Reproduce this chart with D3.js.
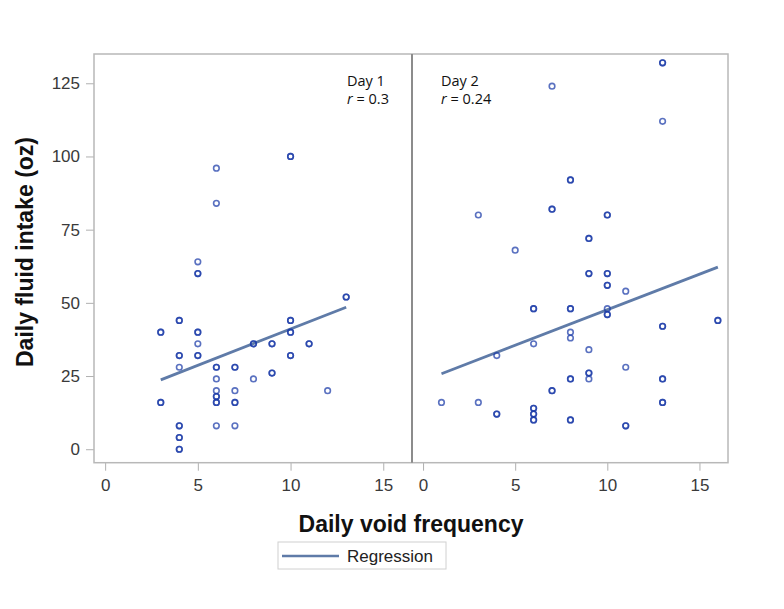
<!DOCTYPE html>
<html><head><meta charset="utf-8">
<script src="https://cdn.jsdelivr.net/npm/d3@7"></script>
<style>body{margin:0;background:#fff}</style>
</head><body>
<svg id="c" width="784" height="609"></svg>
<script>
// ---- data ----
const panelLabels = ["Day 1", "Day 2"];
const rValues = ["0.3", "0.24"];
const xTicks = [0, 5, 10, 15];
const yTicks = [0, 25, 50, 75, 100, 125];
const day1X = [10,10,6,6,5,5,5,13,13,4,4,3,3,5,5,5,4,4,5,5,4,6,6,7,7,6,6,7,6,6,6,6,7,7,3,3,4,4,4,4,4,4,6,7,8,8,8,9,9,9,9,10,10,10,10,10,10,11,11,12];
const day1Y = [100,100,96,84,64,60,60,52,52,44,44,40,40,40,40,36,32,32,32,32,28,28,28,28,28,24,20,20,18,18,16,16,16,16,16,16,8,8,4,4,0,0,8,8,36,36,24,36,36,26,26,44,44,40,40,32,32,36,36,20];
const day2X = [13,13,7,13,8,8,3,7,7,10,10,9,9,5,9,9,10,10,10,10,11,6,6,8,8,10,10,10,13,13,16,16,8,8,6,4,9,11,9,9,9,8,8,13,13,7,7,13,13,1,3,4,4,6,6,6,6,6,6,8,8,11,11];
const day2Y = [132,132,124,112,92,92,80,82,82,80,80,72,72,68,60,60,60,60,56,56,54,48,48,48,48,48,46,46,42,42,44,44,40,38,36,32,34,28,26,26,24,24,24,24,24,20,20,16,16,16,16,12,12,14,14,12,12,10,10,10,10,8,8];
const day1RegX = [3, 13], day1RegY = [23.7, 48.5];
const day2RegX = [1, 16], day2RegY = [25.8, 62.2];
const xTitle = "Daily void frequency";
const yTitle = "Daily fluid intake (oz)";
const legendLabel = "Regression";

// ---- layout ----
const svg = d3.select("#c");
const pTop = 54, pBottom = 462.7, pLeft = 94, pMid = 412, pRight = 728;
const y = d3.scaleLinear().domain([-4.6, 135]).range([pBottom, pTop]);
const xScales = [
  d3.scaleLinear().domain([-0.6, 16.55]).range([pLeft, pMid]),
  d3.scaleLinear().domain([-0.6, 16.55]).range([pMid, pRight])
];
const pts = [
  day1X.map((v, i) => [v, day1Y[i]]),
  day2X.map((v, i) => [v, day2Y[i]])
];
const regs = [
  day1RegX.map((v, i) => [v, day1RegY[i]]),
  day2RegX.map((v, i) => [v, day2RegY[i]])
];
const markerColor = "#1a3aa8";
const regColor = "#5f7ba8";
const tickFont = "Liberation Sans, Arial, sans-serif";

// y axis
const yAx = svg.append("g").attr("transform", `translate(${pLeft},0)`)
  .call(d3.axisLeft(y).tickValues(yTicks).tickSize(8).tickPadding(6));
yAx.select(".domain").remove();
yAx.selectAll("line").attr("stroke", "#b0b0b0");
yAx.selectAll("text").attr("font-family", tickFont).attr("font-size", 17).attr("fill", "#3a3a3a");

// x axes
xScales.forEach((xs) => {
  const g = svg.append("g").attr("transform", `translate(0,${pBottom})`)
    .call(d3.axisBottom(xs).tickValues(xTicks).tickSize(8).tickPadding(8));
  g.select(".domain").remove();
  g.selectAll("line").attr("stroke", "#b0b0b0");
  g.selectAll("text").attr("font-family", tickFont).attr("font-size", 17).attr("fill", "#3a3a3a");
});

// panels
xScales.forEach((xs, p) => {
  const g = svg.append("g");
  const line = d3.line().x(d => xs(d[0])).y(d => y(d[1]));
  g.append("path").attr("d", line(regs[p]))
    .attr("fill", "none").attr("stroke", regColor).attr("stroke-width", 2.8);
  g.selectAll("circle").data(pts[p]).enter().append("circle")
    .attr("cx", d => xs(d[0])).attr("cy", d => y(d[1])).attr("r", 2.8)
    .attr("fill", "none").attr("stroke", markerColor).attr("stroke-width", 1.6)
    .attr("stroke-opacity", 0.72);
});

// frame
svg.append("rect").attr("x", pLeft).attr("y", pTop).attr("width", pRight - pLeft).attr("height", pBottom - pTop)
  .attr("fill", "none").attr("stroke", "#b8b8b8").attr("stroke-width", 1.5);
svg.append("line").attr("x1", pMid).attr("x2", pMid).attr("y1", pTop).attr("y2", pBottom)
  .attr("stroke", "#8c8c8c").attr("stroke-width", 2);

// annotations
const annX = [347, 441];
panelLabels.forEach((lab, p) => {
  svg.append("text").attr("x", annX[p]).attr("y", 85.5)
    .attr("font-family", "Open Sans, Noto Sans, sans-serif").attr("font-size", 14.5).attr("fill", "#111").text(lab);
  const r = svg.append("text").attr("x", annX[p]).attr("y", 104)
    .attr("font-family", "Open Sans, Noto Sans, sans-serif").attr("font-size", 14.5).attr("fill", "#111");
  r.append("tspan").attr("font-style", "italic").text("r");
  r.append("tspan").text(" = " + rValues[p]);
});

// titles
svg.append("text").attr("x", 411).attr("y", 532).attr("text-anchor", "middle")
  .attr("font-family", tickFont).attr("font-weight", "bold").attr("font-size", 23).attr("fill", "#111").text(xTitle);
svg.append("text").attr("transform", "translate(33,252) rotate(-90)").attr("text-anchor", "middle")
  .attr("font-family", tickFont).attr("font-weight", "bold").attr("font-size", 23).attr("fill", "#111").text(yTitle);

// legend
svg.append("rect").attr("x", 278).attr("y", 542).attr("width", 168).attr("height", 27)
  .attr("fill", "#fff").attr("stroke", "#d0d0d0").attr("stroke-width", 1);
svg.append("line").attr("x1", 282).attr("x2", 339).attr("y1", 556).attr("y2", 556)
  .attr("stroke", regColor).attr("stroke-width", 2.5);
svg.append("text").attr("x", 347).attr("y", 562).attr("font-family", tickFont).attr("font-size", 17)
  .attr("fill", "#222").text(legendLabel);
</script>
</body></html>
